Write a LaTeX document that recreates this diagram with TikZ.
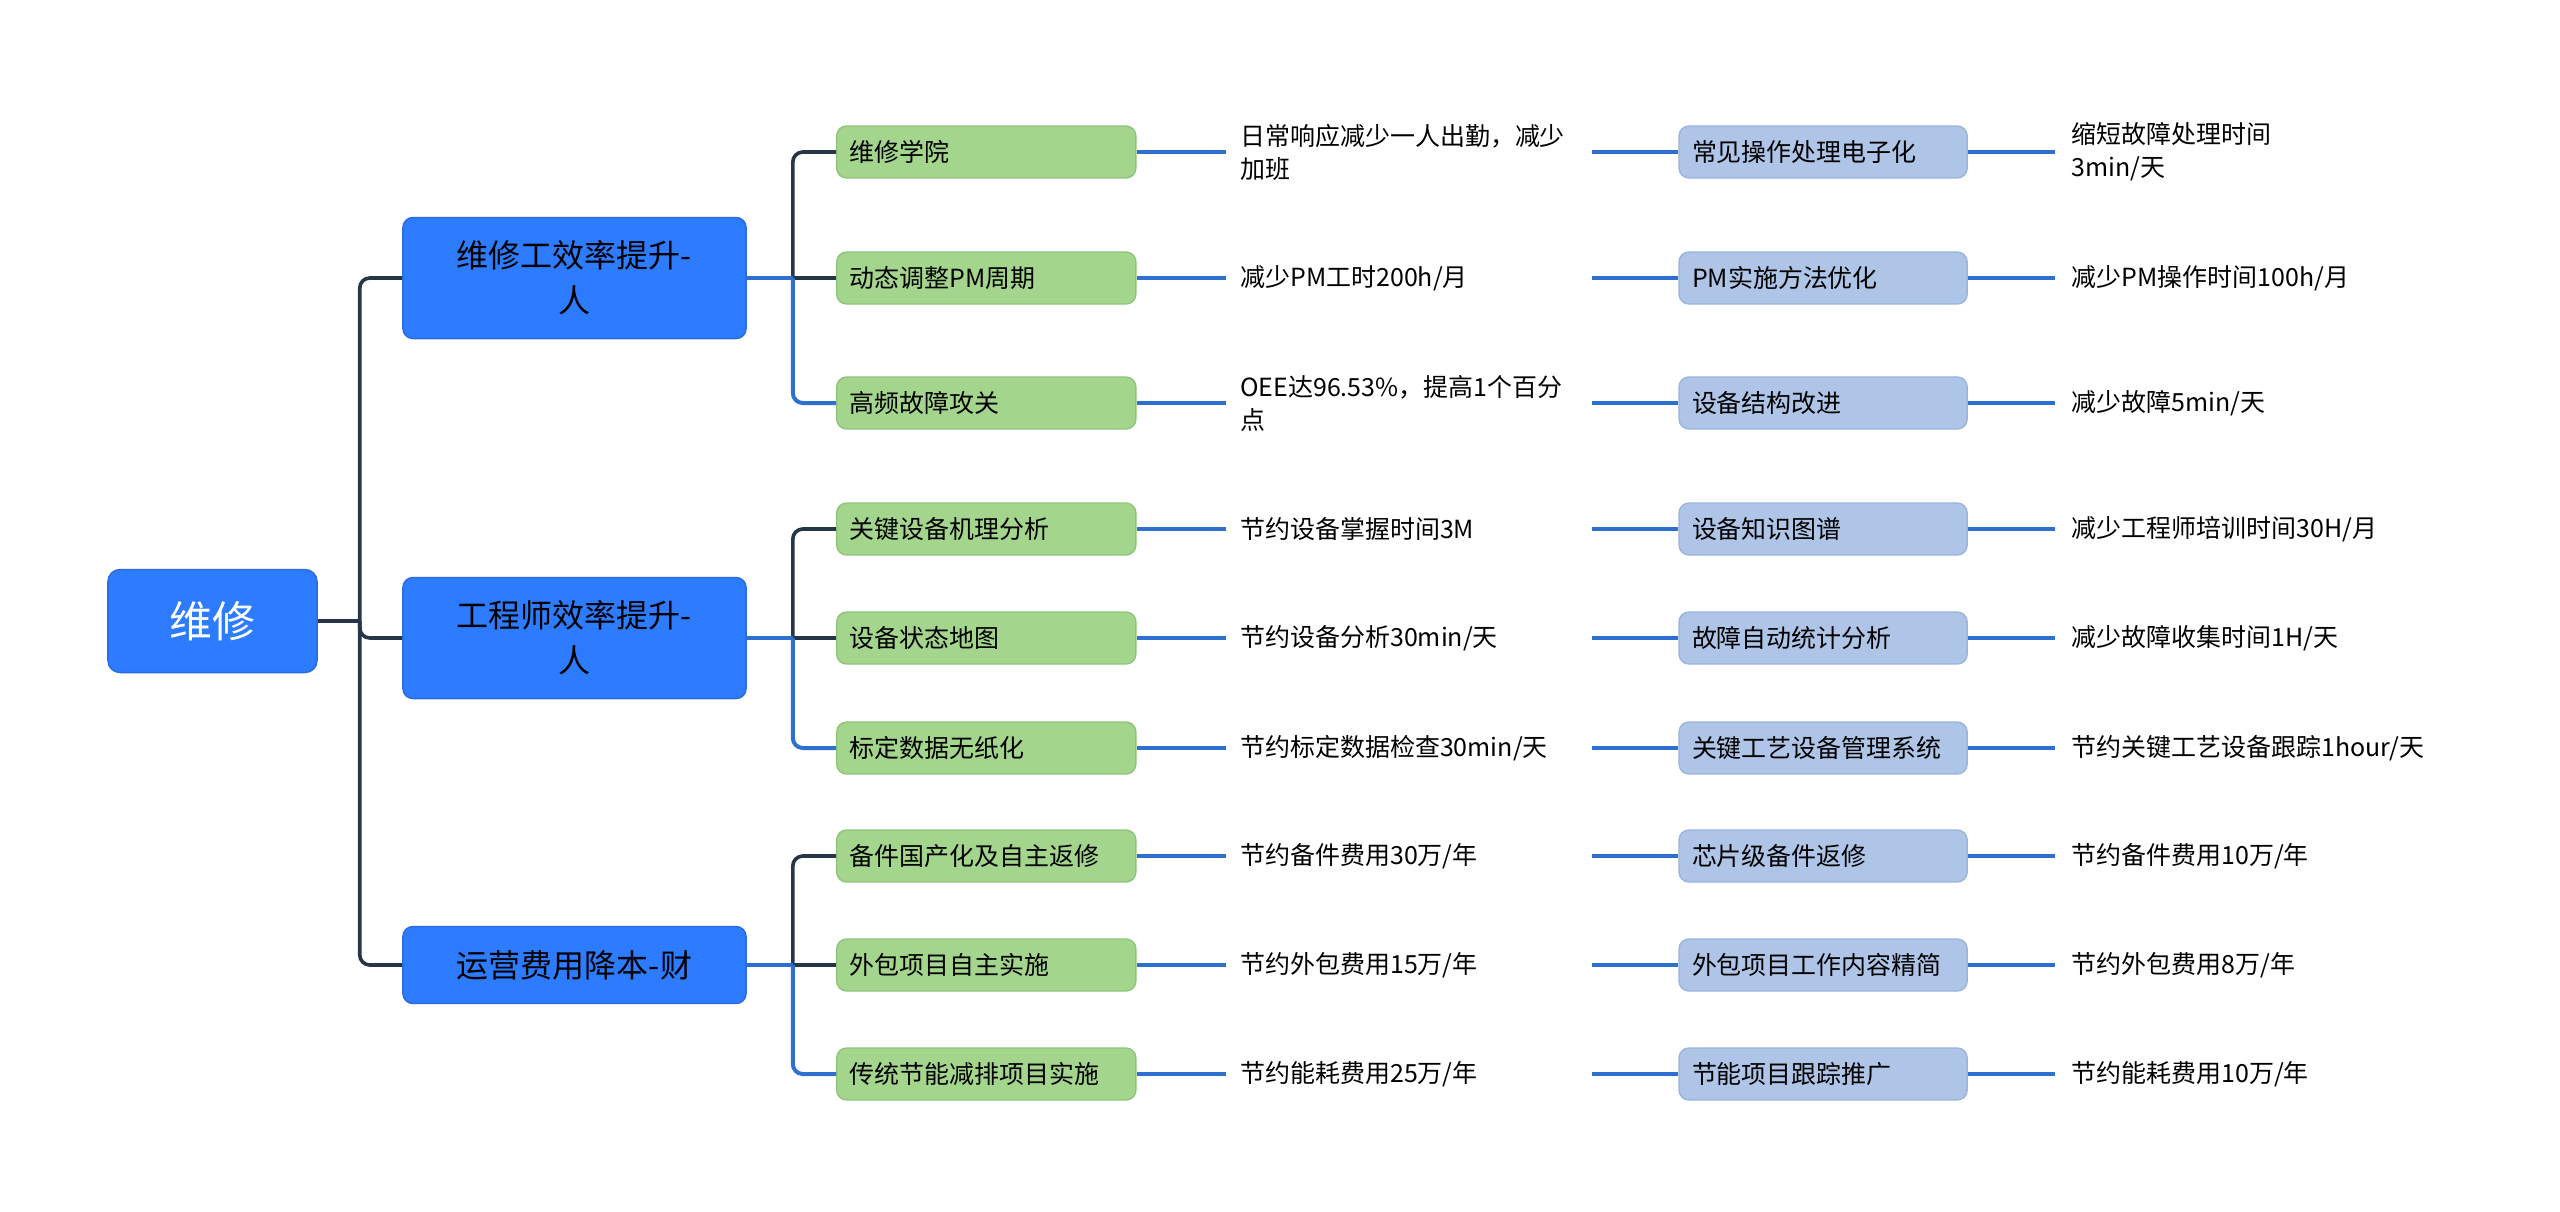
\documentclass[tikz,border=0pt]{standalone}
\usepackage{fontspec}
\setmainfont{Noto Sans CJK SC}
\usepackage{tikz}
\usetikzlibrary{
    positioning,
    calc
}
\definecolor{topicblue}{HTML}{2D7BFF}
\definecolor{topicedge}{HTML}{2A6BE0}
\definecolor{subgreen}{HTML}{A3D58C}
\definecolor{subedge}{HTML}{8FC57A}
\definecolor{detailblue}{HTML}{AEC5E8}
\definecolor{detailedge}{HTML}{9AB4DC}
\definecolor{linkblue}{HTML}{2E70CF}
\definecolor{branchdark}{HTML}{263548}
\tikzstyle{root} = [
    rectangle,
    rounded corners=0.12cm,
    draw=topicedge,
    fill=topicblue,
    minimum width=2.09cm,
    minimum height=1.03cm,
    text=white,
    font=\fontsize{12.2pt}{15pt}\selectfont
]
\tikzstyle{topic} = [
    rectangle,
    rounded corners=0.1cm,
    draw=topicedge,
    fill=topicblue,
    minimum width=3.43cm,
    minimum height=1.21cm,
    align=center,
    font=\fontsize{9.1pt}{12.8pt}\selectfont
]
\tikzstyle{subtopic} = [
    rectangle,
    rounded corners=0.1cm,
    draw=subedge,
    fill=subgreen,
    anchor=west,
    text width=2.73cm,
    inner xsep=0.13cm,
    minimum height=0.52cm,
    align=left,
    font=\fontsize{7.1pt}{9.4pt}\selectfont
]
\tikzstyle{detail} = [
    rectangle,
    rounded corners=0.1cm,
    draw=detailedge,
    fill=detailblue,
    text width=2.62cm,
    inner xsep=0.13cm,
    minimum height=0.52cm,
    align=left,
    font=\fontsize{7.1pt}{9.4pt}\selectfont
]
\tikzstyle{note} = [
    rectangle,
    text width=3.37cm,
    inner xsep=0.14cm,
    inner ysep=0pt,
    align=left,
    font=\fontsize{7.1pt}{9.4pt}\selectfont
]
\tikzstyle{result} = [
    rectangle,
    text width=4.2cm,
    inner xsep=0.16cm,
    inner ysep=0pt,
    align=left,
    font=\fontsize{7.1pt}{9.4pt}\selectfont
]
\tikzstyle{branch} = [
    line width=0.036cm,
    rounded corners=0.1cm,
    draw=branchdark
]
\tikzstyle{link} = [
    line width=0.04cm,
    rounded corners=0.1cm,
    draw=linkblue
]
\begin{document}
\begin{tikzpicture}[x=0.01cm, y=-0.01cm]
        \useasboundingbox (0,0) rectangle (2560,1211);

        % Root
        \node[root] (root) at (212.5,621) {维修};

        % Main topics
        \node[topic] (work) at (574.5,278) {维修工效率提升-\\人};
        \node[topic] (eng) at (574.5,638) {工程师效率提升-\\人};
        \node[topic, minimum height=0.77cm] (cost) at (574.5,965) {运营费用降本-财};

        \coordinate (j0) at ($(root.east)+(42,0)$);
        \draw[branch] (root.east) -- (j0);
        \draw[branch] (j0) |- (work.west);
        \draw[branch] (j0) |- (eng.west);
        \draw[branch] (j0) |- (cost.west);

        % Maintenance worker efficiency
        \node[subtopic] (s1) at (836,152) {维修学院};
        \node[note, right=0.89cm of s1] (n1) {日常响应减少一人出勤，减少\\加班};
        \node[detail, right=0.86cm of n1] (d1) {常见操作处理电子化};
        \node[result, right=0.87cm of d1] (r1) {缩短故障处理时间\\3min/天};

        \node[subtopic] (s2) at (836,278) {动态调整PM周期};
        \node[note, right=0.89cm of s2] (n2) {减少PM工时200h/月};
        \node[detail, right=0.86cm of n2] (d2) {PM实施方法优化};
        \node[result, right=0.87cm of d2] (r2) {减少PM操作时间100h/月};

        \node[subtopic] (s3) at (836,403) {高频故障攻关};
        \node[note, right=0.89cm of s3] (n3) {OEE达96.53\%，提高1个百分\\点};
        \node[detail, right=0.86cm of n3] (d3) {设备结构改进};
        \node[result, right=0.87cm of d3] (r3) {减少故障5min/天};

        \coordinate (j1) at ($(work.east)+(46,0)$);
        \draw[branch] (j1) |- (s1.west);
        \draw[branch] (j1) -- (s2.west);
        \draw[link] (j1) |- (s3.west);
        \draw[link] (work.east) -- (j1);

        % Engineer efficiency
        \node[subtopic] (s4) at (836,529) {关键设备机理分析};
        \node[note, right=0.89cm of s4] (n4) {节约设备掌握时间3M};
        \node[detail, right=0.86cm of n4] (d4) {设备知识图谱};
        \node[result, right=0.87cm of d4] (r4) {减少工程师培训时间30H/月};

        \node[subtopic] (s5) at (836,638) {设备状态地图};
        \node[note, right=0.89cm of s5] (n5) {节约设备分析30min/天};
        \node[detail, right=0.86cm of n5] (d5) {故障自动统计分析};
        \node[result, right=0.87cm of d5] (r5) {减少故障收集时间1H/天};

        \node[subtopic] (s6) at (836,748) {标定数据无纸化};
        \node[note, right=0.89cm of s6] (n6) {节约标定数据检查30min/天};
        \node[detail, right=0.86cm of n6] (d6) {关键工艺设备管理系统};
        \node[result, right=0.87cm of d6] (r6) {节约关键工艺设备跟踪1hour/天};

        \coordinate (j2) at ($(eng.east)+(46,0)$);
        \draw[branch] (j2) |- (s4.west);
        \draw[branch] (j2) -- (s5.west);
        \draw[link] (j2) |- (s6.west);
        \draw[link] (eng.east) -- (j2);

        % Operating cost
        \node[subtopic] (s7) at (836,856) {备件国产化及自主返修};
        \node[note, right=0.89cm of s7] (n7) {节约备件费用30万/年};
        \node[detail, right=0.86cm of n7] (d7) {芯片级备件返修};
        \node[result, right=0.87cm of d7] (r7) {节约备件费用10万/年};

        \node[subtopic] (s8) at (836,965) {外包项目自主实施};
        \node[note, right=0.89cm of s8] (n8) {节约外包费用15万/年};
        \node[detail, right=0.86cm of n8] (d8) {外包项目工作内容精简};
        \node[result, right=0.87cm of d8] (r8) {节约外包费用8万/年};

        \node[subtopic] (s9) at (836,1074) {传统节能减排项目实施};
        \node[note, right=0.89cm of s9] (n9) {节约能耗费用25万/年};
        \node[detail, right=0.86cm of n9] (d9) {节能项目跟踪推广};
        \node[result, right=0.87cm of d9] (r9) {节约能耗费用10万/年};

        \coordinate (j3) at ($(cost.east)+(46,0)$);
        \draw[branch] (j3) |- (s7.west);
        \draw[branch] (j3) -- (s8.west);
        \draw[link] (j3) |- (s9.west);
        \draw[link] (cost.east) -- (j3);

        % Rows
        \foreach \k in {1,...,9} {
            \draw[link] (s\k) -- (n\k);
            \draw[link] (n\k) -- (d\k);
            \draw[link] (d\k) -- (r\k);
        }
    \end{tikzpicture}
\end{document}
